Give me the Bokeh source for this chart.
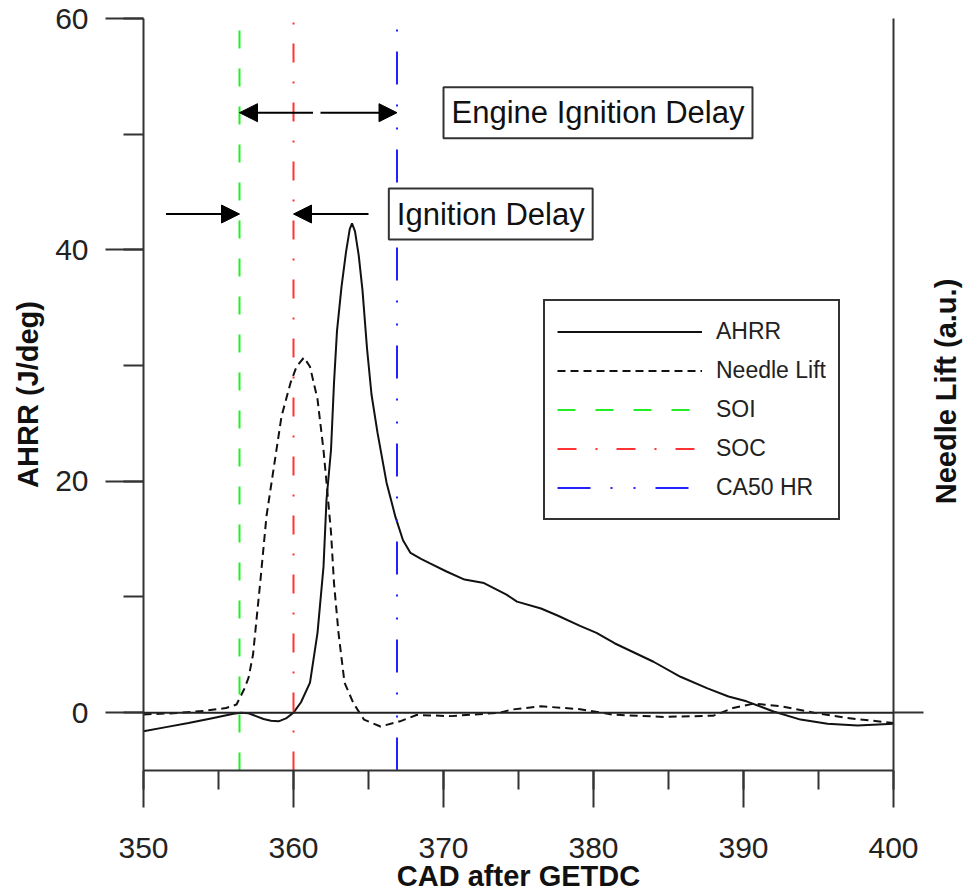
import math
from bokeh.plotting import figure
from bokeh.layouts import row
from bokeh.models import (Range1d, LinearAxis, SingleIntervalTicker, FixedTicker, Span,
                          Label, Arrow, NormalHead, Legend, LegendItem)
from bokeh.embed import file_html
from bokeh.resources import INLINE

# ---------------- data ----------------
cad_ahrr = [350.0, 351.5, 353.0, 354.5, 356.0, 356.5, 357.0, 357.5, 358.0, 358.5, 359.0, 359.5,
            360.0, 360.5, 361.1, 361.6, 362.0, 362.2, 362.5, 362.7, 362.9, 363.2, 363.5, 363.75,
            363.9, 364.1, 364.35, 364.6, 364.9, 365.2, 365.6, 366.2, 366.8, 367.3, 367.8, 368.5,
            369.1, 370.2, 371.4, 372.7, 374.2, 374.9, 376.5, 377.6, 379.1, 380.2, 381.4, 382.7,
            384.0, 385.8, 387.6, 389.0, 390.2, 392.0, 393.8, 395.6, 397.6, 400.0]
ahrr = [-1.6, -1.25, -0.9, -0.5, -0.1, 0.0, -0.05, -0.3, -0.55, -0.7, -0.75, -0.5,
        0.0, 0.9, 2.6, 6.9, 12.6, 18.4, 22.7, 28.5, 33.0, 36.8, 39.8, 41.8,
        42.3, 41.6, 39.5, 36.5, 31.5, 27.5, 24.2, 19.9, 16.9, 14.9, 13.8, 13.3,
        12.9, 12.2, 11.5, 11.2, 10.2, 9.6, 9.0, 8.4, 7.5, 6.9, 6.0, 5.2,
        4.4, 3.1, 2.1, 1.4, 0.98, 0.1, -0.6, -0.95, -1.1, -0.95]

cad_needle = [350.0, 352.0, 354.0, 355.5, 356.2, 356.7, 357.0, 357.3, 357.8, 358.2, 358.7, 359.2,
              359.8, 360.2, 360.7, 361.1, 361.6, 362.0, 362.2, 362.5, 362.7, 363.0, 363.4, 364.0,
              364.7, 365.8, 367.1, 368.2, 370.5, 373.8, 374.5, 376.5, 379.1, 381.3, 384.7, 388.0,
              389.3, 390.7, 392.5, 394.7, 396.9, 400.0]
needle_lift = [-0.15, -0.05, 0.15, 0.4, 0.7, 2.0, 3.0, 5.0, 11.5, 17.0, 21.3, 25.6,
               28.5, 29.9, 30.7, 29.9, 27.1, 22.7, 19.9, 15.6, 11.2, 6.9, 2.6, 0.8,
               -0.6, -1.2, -0.75, -0.2, -0.3, 0.0, 0.26, 0.55, 0.3, -0.17, -0.37, -0.26,
               0.4, 0.78, 0.55, 0.0, -0.46, -0.9]

SOI = 356.4
SOC = 360.0
CA50_HR = 366.9

x_limits = [350, 400]
y_limits = [-5, 60]

FONT = "Liberation Sans"
AX = "#333333"

p = figure(width=929, height=894, output_backend="svg", toolbar_location=None,
           x_range=Range1d(*x_limits), y_range=Range1d(*y_limits),
           x_axis_type=None, y_axis_type=None,
           min_border_left=143, min_border_right=36, min_border_top=18, min_border_bottom=124)
p.outline_line_color = None
p.extra_y_ranges = {"needle": Range1d(*y_limits)}

def style_axis(ax):
    ax.axis_line_color = AX
    ax.axis_line_width = 2
    ax.major_tick_line_color = AX
    ax.major_tick_line_width = 2
    ax.minor_tick_line_color = AX
    ax.minor_tick_line_width = 2
    ax.major_tick_in = 0
    ax.minor_tick_in = 0
    ax.major_label_text_font = FONT
    ax.major_label_text_font_size = "30px"
    ax.major_label_text_color = "#222222"
    ax.axis_label_text_font = FONT
    ax.axis_label_text_font_size = "29px"
    ax.axis_label_text_font_style = "bold"
    ax.axis_label_text_color = "#111111"

xaxis = LinearAxis(ticker=SingleIntervalTicker(interval=10, num_minor_ticks=2),
                   axis_label="CAD after GETDC")
style_axis(xaxis)
xaxis.major_tick_out = 37
xaxis.minor_tick_out = 19
xaxis.major_label_standoff = 30
xaxis.axis_label_standoff = -1
p.add_layout(xaxis, "below")

yaxis = LinearAxis(ticker=SingleIntervalTicker(interval=20, num_minor_ticks=2),
                   axis_label="AHRR (J/deg)")
style_axis(yaxis)
yaxis.major_tick_out = 38
yaxis.minor_tick_out = 20
yaxis.major_label_standoff = 17
yaxis.axis_label_standoff = 8
p.add_layout(yaxis, "left")

# right (needle lift) axis: line plus the zero tick only
raxis = LinearAxis(y_range_name="needle", ticker=FixedTicker(ticks=[0]))
style_axis(raxis)
raxis.major_tick_out = 30
raxis.minor_tick_line_color = None
raxis.major_label_text_font_size = "1px"
raxis.major_label_text_alpha = 0
raxis.major_label_standoff = 0
p.add_layout(raxis, "right")

p.add_layout(Span(location=0, dimension="width", line_color="#222222", line_width=2))

r_ahrr = p.line(cad_ahrr, ahrr, line_color="#111111", line_width=2)
r_needle = p.line(cad_needle, needle_lift, y_range_name="needle", line_color="#111111",
                  line_width=2, line_dash="8 5")
r_soi = p.segment(x0=[SOI], y0=[y_limits[0]], x1=[SOI], y1=[y_limits[1]],
                  line_color="#22ee22", line_width=2, line_dash="18 20")
r_soc = p.segment(x0=[SOC], y0=[y_limits[0]], x1=[SOC], y1=[y_limits[1]],
                  line_color="#ff3333", line_width=2, line_dash="19 19 2 19")
r_ca50 = p.segment(x0=[CA50_HR], y0=[y_limits[0]], x1=[CA50_HR], y1=[y_limits[1]],
                   line_color="#2222ff", line_width=2, line_dash="33 20 2 21 2 20")

legend = Legend(items=[LegendItem(label="AHRR", renderers=[r_ahrr]),
                       LegendItem(label="Needle Lift", renderers=[r_needle]),
                       LegendItem(label="SOI", renderers=[r_soi]),
                       LegendItem(label="SOC", renderers=[r_soc]),
                       LegendItem(label="CA50 HR", renderers=[r_ca50])],
                location=(400, 250), margin=0, padding=12, spacing=2,
                glyph_width=145, glyph_height=37, label_height=37, label_standoff=14,
                label_text_font=FONT, label_text_font_size="23px", label_text_color="#222222",
                border_line_color=AX, border_line_width=2, border_line_alpha=1,
                background_fill_color="white", background_fill_alpha=1)
p.add_layout(legend)

# annotations: arrows and boxed texts
y_engine = 51.86
y_ign = 43.1
head = dict(size=18, fill_color="black", line_color="black")
for xs, xe, yy in [(361.3, SOI, y_engine), (361.8, CA50_HR, y_engine),
                   (351.5, SOI, y_ign), (365.0, SOC, y_ign)]:
    p.add_layout(Arrow(end=NormalHead(**head), x_start=xs, y_start=yy, x_end=xe, y_end=yy,
                       line_color="black", line_width=2))

for tx, ty, txt in [(380.3, y_engine, "Engine Ignition Delay"), (373.15, y_ign, "Ignition Delay")]:
    p.add_layout(Label(x=tx, y=ty, text=txt, text_align="center", text_baseline="middle",
                       text_font=FONT, text_font_size="31px", text_color="#111111",
                       border_line_color=AX, border_line_width=2,
                       background_fill_color="white", padding=8))

# narrow strip on the right carrying the secondary-axis title (reads bottom-to-top)
q = figure(width=39, height=894, output_backend="svg", toolbar_location=None,
           x_axis_type=None, y_axis_type=None, min_border=0,
           x_range=Range1d(0, 1), y_range=Range1d(0, 1))
q.outline_line_color = None
q.add_layout(Label(x=16, y=379, x_units="screen", y_units="screen", angle=math.pi / 2,
                   text="Needle Lift (a.u.)", text_align="center", text_baseline="middle",
                   text_font=FONT, text_font_size="29px", text_font_style="bold",
                   text_color="#111111"))

layout = row(p, q)
open("out.html", "w").write(file_html(layout, INLINE))
